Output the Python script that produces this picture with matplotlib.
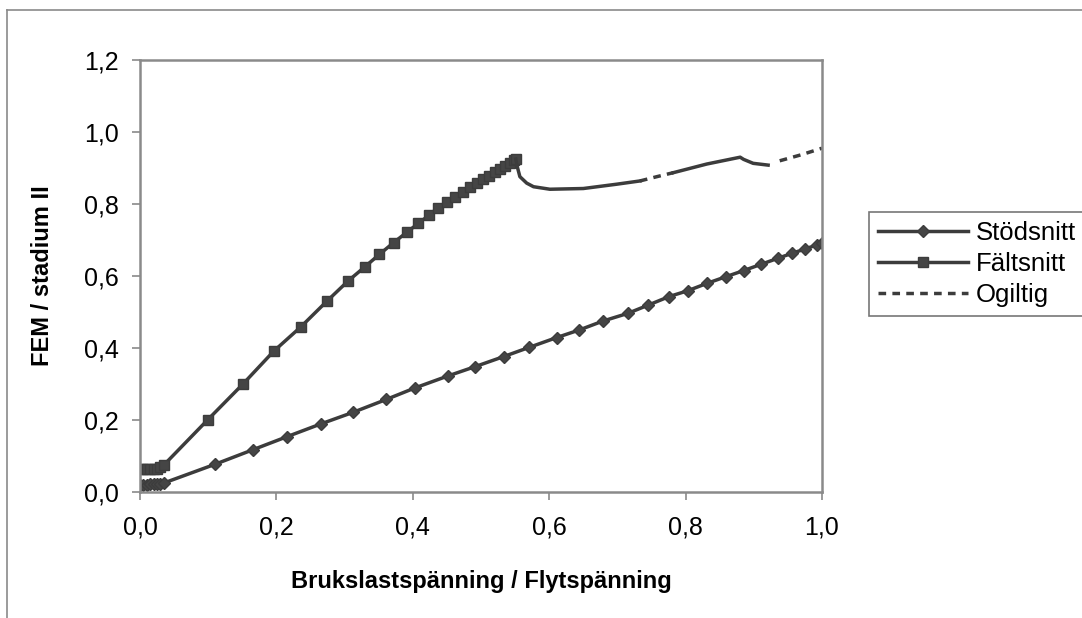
import numpy as np
import matplotlib
matplotlib.use('Agg')
import matplotlib.pyplot as plt
from matplotlib.lines import Line2D

plt.rcParams['font.family'] = ['Liberation Sans', 'DejaVu Sans']

# Stödsnitt (diamonds)
stod_x = [0.0, 0.005, 0.01, 0.015, 0.02, 0.025, 0.03, 0.035, 0.110, 0.165,
          0.216, 0.265, 0.312, 0.361, 0.403, 0.451, 0.491, 0.533, 0.571,
          0.611, 0.644, 0.679, 0.715, 0.745, 0.776, 0.803, 0.832, 0.859,
          0.885, 0.910, 0.935, 0.956, 0.975, 0.992, 1.0]
stod_y = [0.020, 0.020, 0.020, 0.021, 0.021, 0.022, 0.022, 0.025, 0.077,
          0.117, 0.154, 0.189, 0.221, 0.257, 0.289, 0.322, 0.348, 0.376,
          0.402, 0.429, 0.450, 0.475, 0.496, 0.519, 0.543, 0.559, 0.580,
          0.598, 0.615, 0.632, 0.649, 0.663, 0.675, 0.686, 0.693]

# Fältsnitt (squares), valid part with markers
falt_x = [0.0, 0.005, 0.01, 0.015, 0.02, 0.025, 0.03, 0.035, 0.099, 0.151,
          0.196, 0.236, 0.274, 0.305, 0.330, 0.351, 0.372, 0.391, 0.408,
          0.424, 0.437, 0.450, 0.462, 0.473, 0.484, 0.494, 0.503, 0.512,
          0.520, 0.528, 0.535, 0.542, 0.548, 0.551]
falt_y = [0.063, 0.063, 0.063, 0.063, 0.064, 0.065, 0.070, 0.075, 0.200,
          0.300, 0.391, 0.459, 0.530, 0.586, 0.626, 0.660, 0.693, 0.721,
          0.746, 0.769, 0.790, 0.806, 0.820, 0.833, 0.846, 0.858, 0.869,
          0.879, 0.889, 0.898, 0.906, 0.914, 0.921, 0.925]

# Fältsnitt continuation without markers (two solid pieces)
falt2_x = [0.551, 0.553, 0.557, 0.567, 0.577, 0.601, 0.650, 0.699, 0.733,
           np.nan, 0.782, 0.831, 0.880, 0.885, 0.899, 0.921]
falt2_y = [0.925, 0.905, 0.876, 0.858, 0.848, 0.841, 0.843, 0.855, 0.864,
           np.nan, 0.887, 0.911, 0.930, 0.924, 0.913, 0.908]

# Ogiltig (dashed)
ogil_x = [0.733, 0.758, 0.782, np.nan, 0.938, 0.970, 1.0]
ogil_y = [0.864, 0.876, 0.887, np.nan, 0.920, 0.937, 0.955]

col = '#3c3c3c'
grey = '#8a8a8a'

fig = plt.figure(figsize=(10.82, 6.18), dpi=100)
ax = fig.add_axes([140/1082, 1-492/618, 682/1082, 432/618])

ax.plot(stod_x, stod_y, '-', color=col, lw=2.5, marker='D', ms=6.5,
        mfc='#454545', mec=col, label='Stödsnitt')
ax.plot(falt_x, falt_y, '-', color=col, lw=2.5, marker='s', ms=7,
        mfc='#454545', mec=col, label='Fältsnitt')
ax.plot(falt2_x, falt2_y, '-', color=col, lw=2.5)
ax.plot(ogil_x, ogil_y, '--', color=col, lw=2.5, dashes=(2.2, 1.8),
        label='Ogiltig')

ax.set_xlim(0, 1.0)
ax.set_ylim(0, 1.2)
ax.set_xticks(np.arange(0, 1.01, 0.2))
ax.set_yticks(np.arange(0, 1.21, 0.2))
ax.set_xticklabels(['{:.1f}'.format(v).replace('.', ',')
                    for v in np.arange(0, 1.01, 0.2)])
ax.set_yticklabels(['{:.1f}'.format(v).replace('.', ',')
                    for v in np.arange(0, 1.21, 0.2)])
ax.tick_params(labelsize=18, length=6, width=1.2, color=grey, direction='out')
ax.tick_params(axis='x', pad=11)
ax.tick_params(axis='y', pad=9)
for s in ax.spines.values():
    s.set_color(grey)
    s.set_linewidth(1.8)

ax.set_xlabel('Brukslastspänning / Flytspänning', fontsize=17,
              fontweight='bold', labelpad=22)
ax.set_ylabel('FEM / stadium II', fontsize=17, fontweight='bold',
              labelpad=22)

leg = fig.legend(loc='upper left', bbox_to_anchor=(869/1082, 1-212/618),
                 fontsize=18.5, frameon=True, fancybox=False, numpoints=1,
                 handlelength=3.5, handletextpad=0.3, labelspacing=0.28,
                 borderpad=0.35, borderaxespad=0)
leg.get_frame().set_edgecolor('#555555')
leg.get_frame().set_linewidth(1.2)

# outer chart frame
fig.add_artist(Line2D([7/1082, 7/1082], [0, 1-10/618], color=grey, lw=1.2))
fig.add_artist(Line2D([7/1082, 1], [1-10/618, 1-10/618], color=grey, lw=1.2))

plt.savefig('out.png', dpi=100)
